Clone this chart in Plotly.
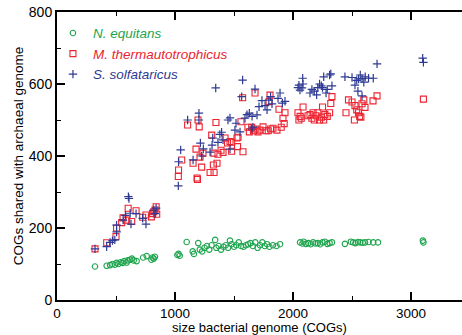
import plotly.graph_objects as go

# N. equitans
neq_x = [322, 421, 450, 470, 490, 505, 520, 540, 555, 570, 590, 600, 620, 635, 650, 675, 730, 760,
         800, 810, 820, 830, 1020, 1030, 1040, 1099, 1150, 1160, 1197, 1210, 1230, 1250, 1270, 1290,
         1310, 1340, 1350, 1370, 1390, 1410, 1430, 1450, 1466, 1480, 1500, 1520, 1540, 1560, 1580,
         1600, 1620, 1640, 1660, 1680, 1700, 1720, 1740, 1760, 1780, 1800, 1830, 1860, 1890, 2060,
         2080, 2090, 2110, 2130, 2150, 2170, 2190, 2210, 2230, 2250, 2270, 2290, 2310, 2330, 2440,
         2490, 2510, 2530, 2550, 2570, 2590, 2610, 2640, 2680, 2720, 3100, 3105]
neq_y = [93, 95, 97, 100, 98, 103, 100, 105, 103, 108, 104, 110, 112, 115, 110, 108, 118, 122,
         112, 118, 115, 120, 125, 128, 123, 161, 135, 128, 158, 140, 135, 145, 150, 140,
         152, 167, 145, 150, 140, 148, 152, 145, 165, 155, 148, 152, 160, 150, 148,
         152, 155, 158, 150, 160, 145, 152, 160, 150, 155, 148, 152, 150, 155, 160,
         157, 162, 156, 158, 155, 160, 157, 158, 155, 160, 162, 156, 158, 160, 156,
         162, 160, 158, 161, 160, 159, 160, 161, 160, 160, 165, 160]

# M. thermautotrophicus
mth_x = [322, 421, 500, 505, 548, 560, 590, 603, 633, 670, 726, 754, 800, 810, 820, 830, 840, 845,
         1028, 1030, 1057, 1107, 1178, 1187, 1190, 1195, 1205, 1153, 1226, 1212, 1237, 1297, 1311,
         1331, 1325, 1356, 1347, 1330, 1364, 1390, 1407, 1424, 1445, 1466, 1480, 1480, 1525, 1534,
         1530, 1559, 1573, 1576, 1618, 1630, 1650, 1665, 1685, 1703, 1678, 1720, 1746, 1797, 1805,
         1771, 1790, 1810, 1830, 1864, 1881, 1900, 1915, 1925, 1932, 2042, 2050, 2060, 2070, 2085,
         2127, 2144, 2160, 2170, 2180, 2195, 2210, 2225, 2240, 2250, 2260, 2270, 2290, 2310, 2320,
         2330, 2449, 2470, 2500, 2525, 2540, 2555, 2565, 2575, 2585, 2600, 2610, 2520, 2678, 2712,
         3105]
mth_y = [142, 159, 176, 200, 215, 228, 222, 255, 218, 248, 230, 236, 231, 240, 245, 250, 259, 238,
         343, 361, 389, 486, 419, 339, 335, 500, 481, 380, 369, 397, 408, 354, 458,
         354, 375, 380, 493, 408, 405, 416, 410, 450, 436, 440, 413, 438, 450, 452,
         426, 495, 562, 412, 480, 467, 480, 470, 475, 467, 575, 472, 481, 551, 569,
         470, 470, 475, 477, 472, 530, 480, 505, 490, 520, 520, 500, 510, 505, 536,
         512, 515, 505, 520, 500, 512, 520, 500, 508, 536, 500, 515, 510, 520, 546,
         565, 520, 556, 550, 540, 528, 520, 510, 508, 545, 556, 535, 500, 553, 567,
         558]

# S. solfataricus
sso_x = [322, 421, 450, 470, 490, 505, 505, 560, 580, 620, 605, 610, 627, 670, 726, 754, 820, 830, 840,
         1028, 1030, 1048, 1107, 1153, 1203, 1203, 1215, 1226, 1240, 1297, 1314, 1320, 1345, 1364,
         1380, 1395, 1407, 1449, 1466, 1466, 1508, 1517, 1551, 1565, 1573, 1593, 1610, 1630, 1653,
         1650, 1660, 1678, 1695, 1712, 1737, 1763, 1780, 1795, 1810, 1822, 1873, 1890, 1910, 1932,
         2042, 2050, 2059, 2076, 2082, 2085, 2144, 2160, 2180, 2200, 2210, 2225, 2240, 2250, 2260,
         2280, 2290, 2310, 2320, 2330, 2440, 2500, 2540, 2555, 2570, 2585, 2600, 2612, 2640, 2680,
         2712, 2525, 2550, 2585, 3099, 3105]
sso_y = [142, 148, 160, 165, 167, 189, 208, 222, 235, 241, 287, 282, 211, 240, 227, 211, 250, 240, 255,
         317, 384, 417, 500, 389, 500, 519, 436, 400, 420, 411, 430, 450, 589, 438,
         460, 466, 445, 500, 506, 419, 472, 491, 467, 565, 611, 505, 515, 519, 510,
         475, 480, 586, 514, 537, 554, 540, 528, 555, 565, 545, 560, 575, 547, 552,
         590, 597, 583, 589, 616, 600, 575, 585, 580, 570, 590, 600, 595, 590, 620,
         575, 585, 625, 628, 595, 620, 618, 610, 614, 625, 615, 605, 620, 616, 616,
         656, 597, 580, 567, 672, 660]

GREEN = "#1ea54e"
RED = "#ec2330"
BLUE = "#2e3a93"
FONT = "Liberation Sans, Arial, Helvetica, sans-serif"

fig = go.Figure()
fig.add_trace(go.Scatter(
    x=neq_x, y=neq_y, mode="markers",
    name=f"<i><span style='color:{GREEN}'>N. equitans</span></i>",
    marker=dict(symbol="circle-open", size=5.5, color=GREEN, line=dict(width=1.1, color=GREEN)),
))
fig.add_trace(go.Scatter(
    x=mth_x, y=mth_y, mode="markers",
    name=f"<i><span style='color:{RED}'>M. thermautotrophicus</span></i>",
    marker=dict(symbol="square-open", size=6, color=RED, line=dict(width=1.1, color=RED)),
))
fig.add_trace(go.Scatter(
    x=sso_x, y=sso_y, mode="markers",
    name=f"<i><span style='color:{BLUE}'>S. solfataricus</span></i>",
    marker=dict(symbol="cross-thin", size=6, color=BLUE, line=dict(width=1.2, color=BLUE)),
))

axis_common = dict(
    showline=True, linecolor="black", linewidth=2,
    ticks="inside", ticklen=8, tickwidth=1.5, tickcolor="black",
    showgrid=False, zeroline=False,
)

fig.update_xaxes(
    **axis_common, range=[0, 3432], dtick=1000, tick0=0, mirror="ticks",
    tickfont=dict(family=FONT, size=13.5, color="black"),
    minor=dict(ticks="inside", ticklen=4, dtick=500, tickwidth=1.2, tickcolor="black"),
    title=dict(text="size bacterial genome (COGs)", font=dict(family=FONT, size=13, color="black"),
               standoff=0),
)
fig.update_yaxes(
    **axis_common, range=[0, 800], dtick=200, tick0=0,
    tickfont=dict(family=FONT, size=14, color="black"),
    minor=dict(ticks="inside", ticklen=4, dtick=100, tickwidth=1.2, tickcolor="black"),
    title=dict(text="COGs shared with archaeal genome", font=dict(family=FONT, size=13.5, color="black"),
               standoff=2),
)

fig.update_layout(
    width=462, height=335,
    margin=dict(l=57, r=0, t=12, b=35),
    paper_bgcolor="white", plot_bgcolor="white",
    showlegend=True,
    legend=dict(x=-0.01, y=0.98, xanchor="left", yanchor="top",
                bgcolor="rgba(0,0,0,0)", font=dict(family=FONT, size=13.5),
                itemwidth=30, tracegroupgap=0),
    font=dict(family=FONT),
    yaxis2=dict(overlaying="y", anchor="x", side="left", range=[0, 800], dtick=200, tick0=0,
                ticks="outside", ticklen=4, tickwidth=1.5, tickcolor="black",
                showticklabels=False, showline=False, showgrid=False, zeroline=False),
)

fig.write_html("out.html")
